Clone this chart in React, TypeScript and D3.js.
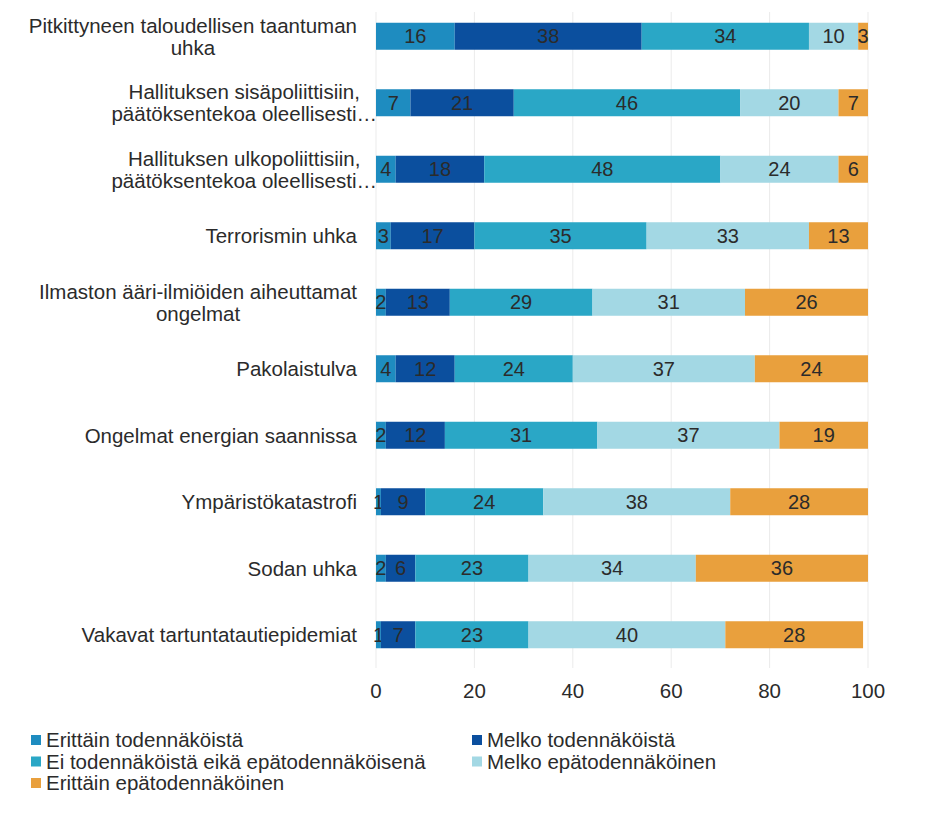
import React, { useEffect, useRef } from "react";
import * as d3 from "d3";

const categories: string[][] = [
  ["Pitkittyneen taloudellisen taantuman", "uhka"],
  ["Hallituksen sisäpoliittisiin,", "päätöksentekoa oleellisesti…"],
  ["Hallituksen ulkopoliittisiin,", "päätöksentekoa oleellisesti…"],
  ["Terrorismin uhka"],
  ["Ilmaston ääri-ilmiöiden aiheuttamat", "ongelmat"],
  ["Pakolaistulva"],
  ["Ongelmat energian saannissa"],
  ["Ympäristökatastrofi"],
  ["Sodan uhka"],
  ["Vakavat tartuntatautiepidemiat"],
];

const seriesNames = [
  "Erittäin todennäköistä",
  "Melko todennäköistä",
  "Ei todennäköistä eikä epätodennäköisenä",
  "Melko epätodennäköinen",
  "Erittäin epätodennäköinen",
];

const erittainTod = [16, 7, 4, 3, 2, 4, 2, 1, 2, 1];
const melkoTod = [38, 21, 18, 17, 13, 12, 12, 9, 6, 7];
const eiTodEikaEpa = [34, 46, 48, 35, 29, 24, 31, 24, 23, 23];
const melkoEpa = [10, 20, 24, 33, 31, 37, 37, 38, 34, 40];
const erittainEpa = [3, 7, 6, 13, 26, 24, 19, 28, 36, 28];

const seriesValues = [erittainTod, melkoTod, eiTodEikaEpa, melkoEpa, erittainEpa];
const colors = ["#1e8cc0", "#0b4f9e", "#2aa7c6", "#a3d8e4", "#e9a03d"];
const xTicks = [0, 20, 40, 60, 80, 100];

const FONT = "'Liberation Sans', Arial, sans-serif";
const TEXT = "#2b2b2b";

export default function App() {
  const ref = useRef<SVGSVGElement | null>(null);

  useEffect(() => {
    const svg = d3.select(ref.current);
    svg.selectAll("*").remove();

    const x = d3.scaleLinear().domain([0, 100]).range([376, 868]).clamp(true);
    const keys = categories.map((_, i) => String(i));
    const y = d3
      .scaleBand()
      .domain(keys)
      .range([3, 668])
      .paddingInner(0.594)
      .paddingOuter(0.297);

    svg.append("rect").attr("width", 926).attr("height", 823).attr("fill", "#fff");

    // gridlines
    svg
      .append("g")
      .selectAll("line")
      .data(xTicks)
      .join("line")
      .attr("x1", (d) => x(d))
      .attr("x2", (d) => x(d))
      .attr("y1", 12)
      .attr("y2", 668)
      .attr("stroke", "#ebebeb")
      .attr("stroke-width", 1);

    // stacked data
    const rows = keys.map((k, i) => {
      const r: any = { key: k };
      seriesNames.forEach((s, j) => (r[s] = seriesValues[j][i]));
      return r;
    });
    const stack = d3.stack<any>().keys(seriesNames)(rows);

    const bh = y.bandwidth();
    stack.forEach((layer, j) => {
      const g = svg.append("g");
      g.selectAll("rect")
        .data(layer)
        .join("rect")
        .attr("x", (d) => x(d[0]))
        .attr("y", (d: any) => y(d.data.key)!)
        .attr("width", (d) => Math.max(0, x(d[1]) - x(d[0])))
        .attr("height", bh)
        .attr("fill", colors[j]);
      g.selectAll("text")
        .data(layer)
        .join("text")
        .attr("x", (d) => (x(d[0]) + x(d[1])) / 2)
        .attr("y", (d: any) => y(d.data.key)! + bh / 2)
        .attr("dy", "0.36em")
        .attr("text-anchor", "middle")
        .attr("font-family", FONT)
        .attr("font-size", 20)
        .attr("fill", TEXT)
        .text((d) => String(d[1] - d[0]));
    });

    // category labels
    const lh = 22;
    categories.forEach((lines, i) => {
      const cy = y(String(i))! + bh / 2;
      const t = svg
        .append("text")
        .attr("font-family", FONT)
        .attr("font-size", 20.5)
        .attr("fill", TEXT);
      if (lines.length === 1) {
        t.attr("x", 357)
          .attr("y", cy)
          .attr("dy", "0.36em")
          .attr("text-anchor", "end")
          .text(lines[0]);
      } else {
        const spans = lines.map((l, k) =>
          t
            .append("tspan")
            .attr("y", cy + (k - (lines.length - 1) / 2) * lh)
            .attr("dy", "0.36em")
            .attr("text-anchor", "middle")
            .text(l)
        );
        const widths = spans.map((s) => (s.node() as SVGTSpanElement).getComputedTextLength());
        const maxW = Math.max(...widths);
        const right = lines.some((l) => l.endsWith("…")) ? 377 : 357;
        spans.forEach((s) => s.attr("x", right - maxW / 2));
      }
    });

    // x axis labels
    svg
      .append("g")
      .selectAll("text")
      .data(xTicks)
      .join("text")
      .attr("x", (d) => x(d))
      .attr("y", 691)
      .attr("dy", "0.36em")
      .attr("text-anchor", "middle")
      .attr("font-family", FONT)
      .attr("font-size", 20.5)
      .attr("fill", TEXT)
      .text((d) => String(d));

    // legend
    const legendPos = [
      [31, 740],
      [472, 740],
      [31, 761.5],
      [472, 761.5],
      [31, 783],
    ];
    seriesNames.forEach((s, j) => {
      const [lx, ly] = legendPos[j];
      svg
        .append("rect")
        .attr("x", lx)
        .attr("y", ly - 5)
        .attr("width", 10)
        .attr("height", 10)
        .attr("fill", colors[j]);
      svg
        .append("text")
        .attr("x", lx + 15)
        .attr("y", ly)
        .attr("dy", "0.36em")
        .attr("font-family", FONT)
        .attr("font-size", 20.5)
        .attr("fill", TEXT)
        .text(s);
    });
  }, []);

  return (
    <div style={{ position: "absolute", left: 0, top: 0 }}>
      <svg ref={ref} width={926} height={823} style={{ display: "block" }} />
    </div>
  );
}
